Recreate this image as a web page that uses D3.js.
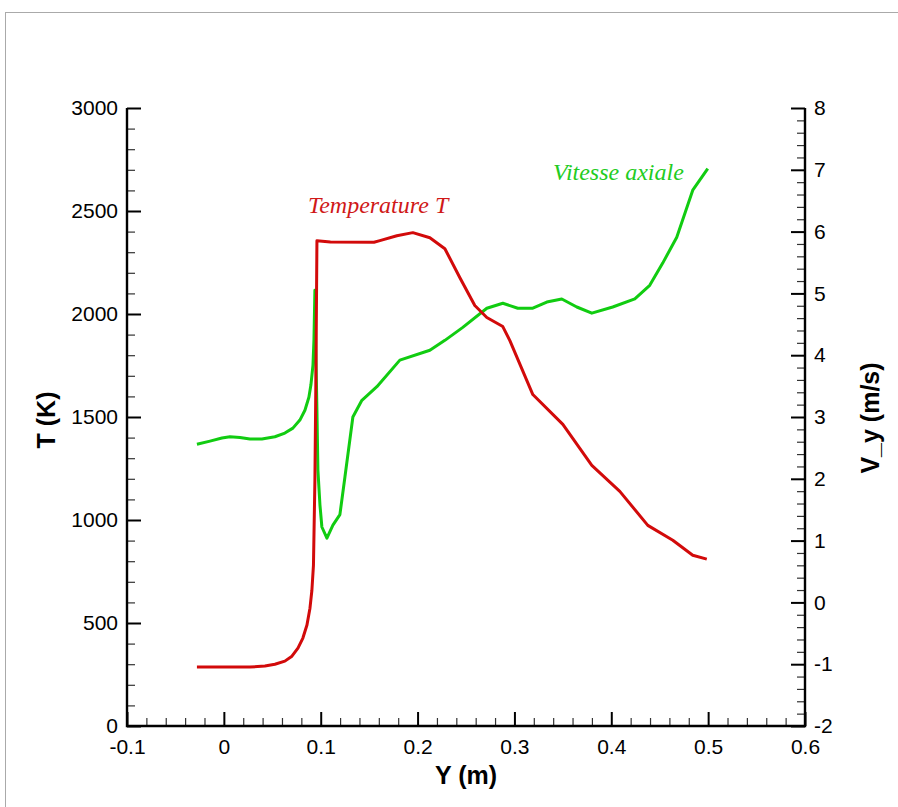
<!DOCTYPE html>
<html>
<head>
<meta charset="utf-8">
<script src="https://cdn.jsdelivr.net/npm/d3@7"></script>
<style>
  html, body { margin: 0; padding: 0; background: #fff; }
  svg { display: block; }
</style>
</head>
<body>
<script>
// ---- Data ----
const xTicks = [-0.1, 0, 0.1, 0.2, 0.3, 0.4, 0.5, 0.6];
const xTickLabels = ["-0.1", "0", "0.1", "0.2", "0.3", "0.4", "0.5", "0.6"];
const tTicks = [0, 500, 1000, 1500, 2000, 2500, 3000];
const tTickLabels = ["0", "500", "1000", "1500", "2000", "2500", "3000"];
const vTicks = [-2, -1, 0, 1, 2, 3, 4, 5, 6, 7, 8];
const vTickLabels = ["-2", "-1", "0", "1", "2", "3", "4", "5", "6", "7", "8"];

const tempY = [-0.0278, 0.0269, 0.0424, 0.0527, 0.063, 0.0703, 0.0765, 0.0816, 0.0858, 0.0889, 0.0909, 0.0925,
  0.094, 0.095, 0.0961,
  0.11, 0.155, 0.1611, 0.1786, 0.1951, 0.2127, 0.2282, 0.2437, 0.2591, 0.2715, 0.288, 0.2953, 0.319, 0.35,
  0.3799, 0.4088, 0.4377, 0.4635, 0.4841, 0.4986];
const tempT = [286, 286, 291, 300, 315, 339, 378, 427, 490, 572, 659, 780,
  1192, 1677, 2356,
  2350, 2348, 2356, 2380, 2395, 2370, 2317, 2176, 2041, 1983, 1939, 1871, 1609, 1464,
  1265, 1139, 974, 902, 829, 810];

const velY = [-0.0278, -0.0143, -0.002, 0.0063, 0.0166, 0.0269, 0.0393, 0.0527, 0.063, 0.0713, 0.0785, 0.0837,
  0.0878, 0.0899, 0.092, 0.093, 0.094,
  0.095, 0.0961, 0.0971, 0.0992, 0.1012, 0.1064, 0.1126, 0.1198, 0.125, 0.1332, 0.1425, 0.158, 0.1817,
  0.2127, 0.2282, 0.2467, 0.2715, 0.288, 0.3035, 0.319, 0.3334, 0.3489, 0.3644, 0.3799, 0.4015, 0.4243,
  0.4397, 0.4531, 0.4676, 0.4841, 0.4996];
const velV = [2.56, 2.61, 2.66, 2.68, 2.67, 2.645, 2.645, 2.68, 2.74, 2.82, 2.95, 3.11,
  3.32, 3.52, 3.84, 4.24, 5.05,
  4.03, 3.11, 2.14, 1.58, 1.22, 1.04, 1.25, 1.42, 2.03, 3.0, 3.27, 3.49, 3.92,
  4.08, 4.24, 4.45, 4.76, 4.84, 4.76, 4.76, 4.86, 4.91, 4.78, 4.68, 4.78, 4.91,
  5.13, 5.49, 5.91, 6.67, 7.02];

const seriesNames = ["Temperature T", "Vitesse axiale"];
const axisTitles = ["Y (m)", "T (K)", "V_y (m/s)"];

// ---- Layout ----
const W = 898, H = 807;
const L = 127, R = 805, T = 108, B = 726;
const red = "#d20a0a", green = "#11cc11";

const svg = d3.select("body").append("svg").attr("width", W).attr("height", H);

svg.append("rect").attr("x", 5.5).attr("y", 12.5).attr("width", W + 20).attr("height", H + 20)
  .attr("fill", "#fff").attr("stroke", "#aaa").attr("stroke-width", 1);

const x = d3.scaleLinear().domain([-0.1, 0.6]).range([L, R]);
const yT = d3.scaleLinear().domain([0, 3000]).range([B, T]);
const yV = d3.scaleLinear().domain([-2, 8]).range([B, T]);

const font = "'Liberation Sans', Arial, Helvetica, sans-serif";

function styleAxis(g, major) {
  g.select(".domain").remove();
  g.selectAll(".tick line").attr("stroke", major ? "#000" : "#333").attr("stroke-width", major ? 2 : 1.2);
  g.selectAll("text").attr("font-family", font).attr("font-size", 21).attr("fill", "#000");
}

// minor ticks
const xMinor = d3.range(-0.1, 0.6001, 0.02).filter(v => Math.abs(Math.round(v * 10) - v * 10) > 1e-6);
const tMinor = d3.range(0, 3001, 100).filter(v => v % 500 !== 0);
const vMinor = d3.range(-2, 8.0001, 0.2).filter(v => Math.abs(Math.round(v) - v) > 1e-6);

svg.append("g").attr("transform", `translate(0,${B})`)
  .call(d3.axisBottom(x).tickValues(xMinor).tickFormat("").tickSizeInner(-8).tickSizeOuter(0))
  .call(g => styleAxis(g, false));
svg.append("g").attr("transform", `translate(${L},0)`)
  .call(d3.axisLeft(yT).tickValues(tMinor).tickFormat("").tickSizeInner(-8).tickSizeOuter(0))
  .call(g => styleAxis(g, false));
svg.append("g").attr("transform", `translate(${R},0)`)
  .call(d3.axisRight(yV).tickValues(vMinor).tickFormat("").tickSizeInner(-8).tickSizeOuter(0))
  .call(g => styleAxis(g, false));

// major ticks
svg.append("g").attr("transform", `translate(0,${B})`)
  .call(d3.axisBottom(x).tickValues(xTicks).tickFormat((d, i) => xTickLabels[i]).tickSizeInner(-14).tickSizeOuter(0).tickPadding(13))
  .call(g => styleAxis(g, true));
svg.append("g").attr("transform", `translate(${L},0)`)
  .call(d3.axisLeft(yT).tickValues(tTicks).tickFormat((d, i) => tTickLabels[i]).tickSizeInner(-14).tickSizeOuter(0).tickPadding(9))
  .call(g => styleAxis(g, true));
svg.append("g").attr("transform", `translate(${R},0)`)
  .call(d3.axisRight(yV).tickValues(vTicks).tickFormat((d, i) => vTickLabels[i]).tickSizeInner(-14).tickSizeOuter(0).tickPadding(9))
  .call(g => styleAxis(g, true));

// axis lines
const axLines = svg.append("g").attr("stroke", "#000").attr("stroke-width", 2.4).attr("fill", "none");
axLines.append("path").attr("d", `M${L},${T}V${B}H${R}V${T}`);

// data lines
const lineT = d3.line().x((d, i) => x(tempY[i])).y(d => yT(d));
const lineV = d3.line().x((d, i) => x(velY[i])).y(d => yV(d));

svg.append("path").datum(velV).attr("d", lineV)
  .attr("fill", "none").attr("stroke", green).attr("stroke-width", 3).attr("stroke-linejoin", "round");
svg.append("path").datum(tempT).attr("d", lineT)
  .attr("fill", "none").attr("stroke", red).attr("stroke-width", 3).attr("stroke-linejoin", "round");

// annotations
svg.append("text").attr("x", 308).attr("y", 213).text(seriesNames[0])
  .attr("font-family", "'Liberation Serif', 'Times New Roman', serif").attr("font-style", "italic")
  .attr("font-size", 24).attr("fill", "#d01818");
svg.append("text").attr("x", 553).attr("y", 180).text(seriesNames[1])
  .attr("font-family", "'Liberation Serif', 'Times New Roman', serif").attr("font-style", "italic")
  .attr("font-size", 24).attr("fill", "#22cc22");

// axis titles
svg.append("text").attr("x", 466).attr("y", 784).attr("text-anchor", "middle")
  .attr("font-family", font).attr("font-weight", "bold").attr("font-size", 25).text(axisTitles[0]);
svg.append("text").attr("transform", `translate(55,420) rotate(-90)`).attr("text-anchor", "middle")
  .attr("font-family", font).attr("font-weight", "bold").attr("font-size", 25).text(axisTitles[1]);
svg.append("text").attr("transform", `translate(879,418) rotate(-90)`).attr("text-anchor", "middle")
  .attr("font-family", font).attr("font-weight", "bold").attr("font-size", 25).text(axisTitles[2]);
</script>
</body>
</html>
